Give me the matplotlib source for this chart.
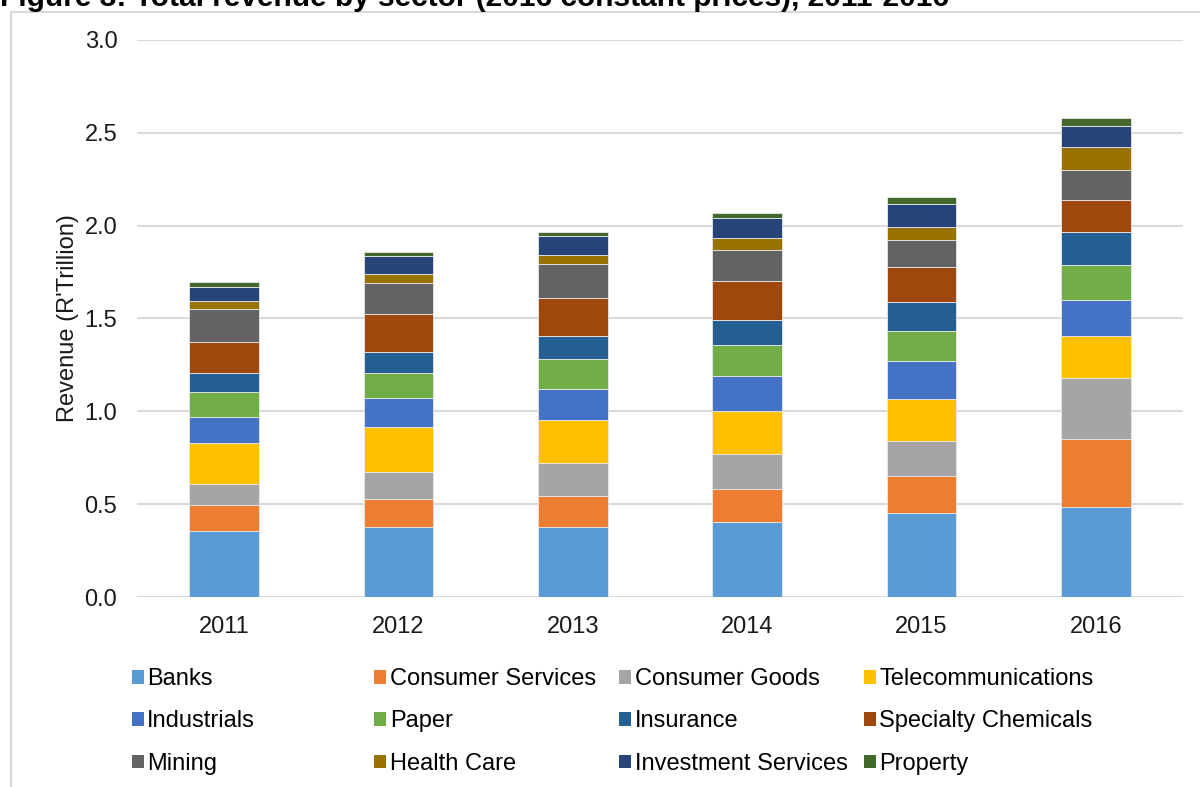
import numpy as np
import matplotlib
matplotlib.use("Agg")
import matplotlib.pyplot as plt
from matplotlib.patches import Patch, Rectangle

plt.rcParams["font.family"] = ["Liberation Sans", "DejaVu Sans"]

years = ["2011", "2012", "2013", "2014", "2015", "2016"]

sectors = ["Banks", "Consumer Services", "Consumer Goods", "Telecommunications",
           "Industrials", "Paper", "Insurance", "Specialty Chemicals",
           "Mining", "Health Care", "Investment Services", "Property"]

colors = ["#5B9BD5", "#ED7D31", "#A5A5A5", "#FFC000",
          "#4472C4", "#70AD47", "#255E91", "#9E480E",
          "#636363", "#997300", "#264478", "#43682B"]

# revenue, R' trillion (2016 constant prices)
banks = [0.357, 0.377, 0.377, 0.406, 0.452, 0.486]
consumer_services = [0.139, 0.153, 0.169, 0.174, 0.201, 0.367]
consumer_goods = [0.113, 0.145, 0.177, 0.192, 0.187, 0.325]
telecommunications = [0.219, 0.239, 0.230, 0.230, 0.226, 0.229]
industrials = [0.140, 0.156, 0.169, 0.190, 0.203, 0.194]
paper = [0.136, 0.135, 0.158, 0.165, 0.164, 0.186]
insurance = [0.101, 0.116, 0.127, 0.133, 0.154, 0.177]
specialty_chemicals = [0.167, 0.202, 0.202, 0.210, 0.189, 0.174]
mining = [0.179, 0.167, 0.183, 0.167, 0.149, 0.163]
health_care = [0.043, 0.050, 0.050, 0.064, 0.070, 0.121]
investment_services = [0.077, 0.098, 0.102, 0.112, 0.124, 0.115]
property_ = [0.024, 0.022, 0.024, 0.027, 0.034, 0.041]

series = [banks, consumer_services, consumer_goods, telecommunications,
          industrials, paper, insurance, specialty_chemicals,
          mining, health_care, investment_services, property_]

fig = plt.figure(figsize=(12, 7.87), dpi=100)
ax = fig.add_axes([0.114, 0.2414, 0.872, 0.7078])

x = np.arange(len(years))
bottom = np.zeros(len(years))
for vals, col, name in zip(series, colors, sectors):
    ax.bar(x, vals, width=0.4, bottom=bottom, color=col, label=name,
           edgecolor="#e8e8e8", linewidth=0.6, zorder=3)
    bottom += np.array(vals)

ax.set_xlim(-0.5, len(years) - 0.5)
ax.set_ylim(0, 3.0)
ax.set_yticks(np.arange(0, 3.01, 0.5))
ax.set_yticklabels([f"{v:.1f}" for v in np.arange(0, 3.01, 0.5)])
ax.set_xticks(x)
ax.set_xticklabels(years)
ax.tick_params(axis="both", length=0, labelsize=17, colors="#1a1a1a")
ax.tick_params(axis="y", pad=14)
ax.tick_params(axis="x", pad=14)
ax.grid(axis="y", color="#d9d9d9", linewidth=1.5, zorder=0)
for s in ax.spines.values():
    s.set_visible(False)
ax.set_ylabel("Revenue (R'Trillion)", fontsize=17, color="#1a1a1a", labelpad=4)

# legend: four fixed-width columns like the original
col_x = [0.110, 0.312, 0.516, 0.720]
for c in range(4):
    idx = [c, c + 4, c + 8]
    handles = [Patch(facecolor=colors[i], edgecolor="none") for i in idx]
    labels = [sectors[i] for i in idx]
    fig.legend(handles, labels, loc="upper left", bbox_to_anchor=(col_x[c], 0.151),
               frameon=False, fontsize=17, handlelength=0.5, handleheight=0.5,
               handletextpad=0.15, labelspacing=0.86, borderpad=0, borderaxespad=0)

# chart border
fig.patches.append(Rectangle((0.0095, -0.1), 1.2, (787 - 12) / 787 + 0.1,
                             transform=fig.transFigure, fill=False,
                             edgecolor="#d9d9d9", linewidth=1.5))

fig.text(0.0, 1.0 - 6 / 787, "Figure 3: Total revenue by sector (2016 constant prices), 2011-2016",
         fontsize=21.5, fontweight="bold", ha="left", va="baseline")

fig.savefig("out.png", dpi=100)
